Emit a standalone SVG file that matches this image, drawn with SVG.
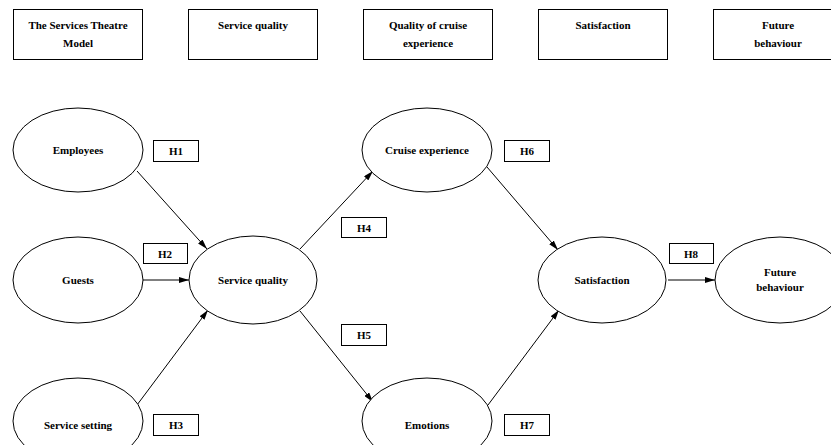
<svg xmlns="http://www.w3.org/2000/svg" width="831" height="445" viewBox="0 0 831 445">
<style>
text{font-weight:bold;font-size:11px;fill:#000;text-anchor:middle}
.box{fill:#fff;stroke:#000;stroke-width:1}
.ell{fill:#fff;stroke:#000;stroke-width:1}
.lbl{fill:#fff;stroke:#000;stroke-width:1}
.conn line{stroke:#000;stroke-width:1;marker-end:url(#ah)}
</style>
<defs>
<marker id="ah" viewBox="0 0 10 6" refX="10" refY="3" markerWidth="10" markerHeight="6" markerUnits="userSpaceOnUse" orient="auto">
<path d="M0,0 L10,3 L0,6 Z" fill="#000"/>
</marker>
</defs>
<rect width="831" height="445" fill="#fff"/>
<g font-family="'Liberation Serif', 'Times New Roman', serif">
<g id="hdr1"><rect class="box" x="13.5" y="9.5" width="129" height="50"/><text x="78" y="29">The Services Theatre</text><text x="78" y="47">Model</text></g>
<g id="hdr2"><rect class="box" x="188.5" y="9.5" width="129" height="50"/><text x="253" y="29">Service quality</text></g>
<g id="hdr3"><rect class="box" x="363.5" y="9.5" width="129" height="50"/><text x="428" y="29">Quality of cruise</text><text x="428" y="47">experience</text></g>
<g id="hdr4"><rect class="box" x="538.5" y="9.5" width="129" height="50"/><text x="603" y="29">Satisfaction</text></g>
<g id="hdr5"><rect class="box" x="713.5" y="9.5" width="129" height="50"/><text x="778" y="29">Future</text><text x="778" y="47">behaviour</text></g>

<g class="conn" id="connectors">
<line x1="137" y1="171" x2="207" y2="249"/>
<line x1="143" y1="280" x2="189" y2="280"/>
<line x1="137" y1="405" x2="208" y2="310"/>
<line x1="300" y1="249" x2="373" y2="171"/>
<line x1="300" y1="311" x2="373" y2="402"/>
<line x1="487" y1="167" x2="558" y2="250"/>
<line x1="488" y1="405" x2="559" y2="310"/>
<line x1="668" y1="280" x2="715" y2="280"/>
</g>

<g id="employees"><ellipse class="ell" cx="78" cy="150" rx="65" ry="42"/><text x="78" y="154">Employees</text></g>
<g id="guests"><ellipse class="ell" cx="78" cy="280" rx="65" ry="43"/><text x="78" y="284">Guests</text></g>
<g id="setting"><ellipse class="ell" cx="78" cy="421" rx="65" ry="43"/><text x="78" y="429">Service setting</text></g>
<g id="sq"><ellipse class="ell" cx="253" cy="280" rx="64" ry="44"/><text x="253" y="284">Service quality</text></g>
<g id="cruise"><ellipse class="ell" cx="427" cy="150" rx="65" ry="42"/><text x="427" y="154">Cruise experience</text></g>
<g id="emotions"><ellipse class="ell" cx="427" cy="421" rx="65" ry="43"/><text x="427" y="429">Emotions</text></g>
<g id="satisfaction"><ellipse class="ell" cx="602" cy="280" rx="64" ry="43"/><text x="602" y="284">Satisfaction</text></g>
<g id="future"><ellipse class="ell" cx="780" cy="280" rx="65" ry="43"/><text x="780" y="276">Future</text><text x="780" y="291">behaviour</text></g>

<g id="h1"><rect class="lbl" x="153.5" y="140.5" width="45" height="21"/><text x="176" y="155">H1</text></g>
<g id="h2"><rect class="lbl" x="143.5" y="243.5" width="44" height="20"/><text x="165" y="258">H2</text></g>
<g id="h3"><rect class="lbl" x="153.5" y="414.5" width="45" height="21"/><text x="176" y="429">H3</text></g>
<g id="h4"><rect class="lbl" x="341.5" y="217.5" width="45" height="20"/><text x="364" y="232">H4</text></g>
<g id="h5"><rect class="lbl" x="341.5" y="324.5" width="45" height="21"/><text x="364" y="339">H5</text></g>
<g id="h6"><rect class="lbl" x="504.5" y="140.5" width="45" height="21"/><text x="527" y="155">H6</text></g>
<g id="h7"><rect class="lbl" x="504.5" y="414.5" width="45" height="21"/><text x="527" y="429">H7</text></g>
<g id="h8"><rect class="lbl" x="669.5" y="243.5" width="44" height="20"/><text x="691" y="258">H8</text></g>
</g>
</svg>
